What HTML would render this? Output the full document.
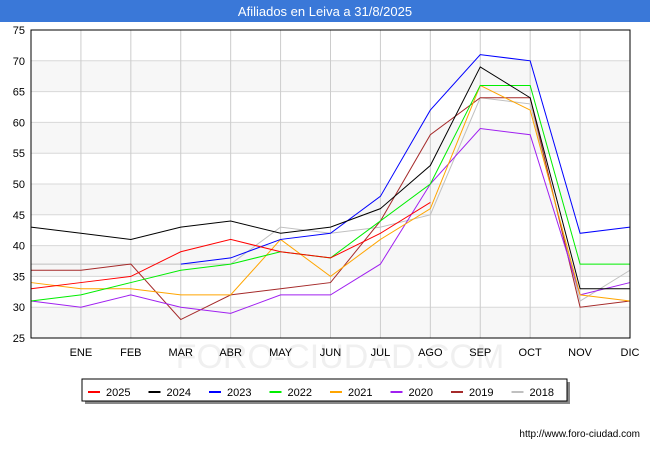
<!DOCTYPE html>
<html><head><meta charset="utf-8"><style>
body{margin:0;width:650px;height:450px;background:#fff;font-family:"Liberation Sans",sans-serif;overflow:hidden}
</style></head><body>
<svg id="c" width="650" height="450" xmlns="http://www.w3.org/2000/svg">
<rect x="0" y="0" width="650" height="22" fill="#3a78d8"/>
<text x="325" y="16" text-anchor="middle" fill="#fff" font-size="13">Afiliados en Leiva a 31/8/2025</text>
<text x="340" y="368" text-anchor="middle" fill="#f0f0f0" font-size="34">FORO-CIUDAD.COM</text>
<g id="grid"></g><g id="series"></g><g id="axes"></g>
<g id="legend"></g>
<text x="640" y="437" text-anchor="end" font-size="10" fill="#000">http://www.foro-ciudad.com</text>
</svg>
<script>
const months=["","ENE","FEB","MAR","ABR","MAY","JUN","JUL","AGO","SEP","OCT","NOV","DIC"];
const yTicks=[25,30,35,40,45,50,55,60,65,70,75];
const names=["2025","2024","2023","2022","2021","2020","2019","2018"];
const colors=["#ff0000","#000000","#0000ff","#00ee00","#ffa500","#a020f0","#a52a2a","#c0c0c0"];
const s2025=[33,34,35,39,41,39,38,42,47];
const s2024=[43,42,41,43,44,42,43,46,53,69,64,33,33];
const s2023=[null,null,null,37,38,41,42,48,62,71,70,42,43];
const s2022=[31,32,34,36,37,39,38,44,50,66,66,37,37];
const s2021=[34,33,33,32,32,41,35,41,46,66,62,32,31];
const s2020=[31,30,32,30,29,32,32,37,50,59,58,32,34];
const s2019=[36,36,37,28,32,33,34,44,58,64,64,30,31];
const s2018=[37,37,37,37,37,43,42,43,45,64,63,31,36];
const data=[s2025,s2024,s2023,s2022,s2021,s2020,s2019,s2018];
const X0=31,X1=630,Y0=338,Y1=30;
const x=i=>X0+i*(X1-X0)/12;
const y=v=>Y0-(v-25)*(Y0-Y1)/50;
const NS="http://www.w3.org/2000/svg";
function mk(t,a,p){const e=document.createElementNS(NS,t);for(const k in a)e.setAttribute(k,a[k]);p.appendChild(e);return e;}
const g=document.getElementById('grid');
for(let i=0;i<yTicks.length-1;i+=2){const r=mk('rect',{x:X0,y:y(yTicks[i+1]),width:X1-X0,height:y(yTicks[i])-y(yTicks[i+1]),fill:'#f7f7f7'},g);

}
yTicks.forEach(v=>{const l=mk('line',{x1:X0,x2:X1,y1:y(v),y2:y(v),stroke:'#d8d8d8'},g);


const t=mk('text',{x:X0-6,y:y(v)+4,'text-anchor':'end','font-size':11},g);t.textContent=v;

});
months.forEach((m,i)=>{const l=mk('line',{x1:x(i),x2:x(i),y1:Y1,y2:Y0,stroke:'#cccccc'},g);


const t=mk('text',{x:x(i),y:356,'text-anchor':'middle','font-size':11},g);t.textContent=m;

});
const a=document.getElementById('axes');
mk('rect',{x:X0,y:Y1,width:X1-X0,height:Y0-Y1,fill:'none',stroke:'#000'},a);
const sg=document.getElementById('series');
for(let k=data.length-1;k>=0;k--){let pts=[];data[k].forEach((v,i)=>{if(v!==null)pts.push(x(i)+','+y(v));});
const p=mk('polyline',{points:pts.join(' '),fill:'none',stroke:colors[k],'stroke-width':1},sg);

}
const lg=document.getElementById('legend');
mk('rect',{x:85,y:382,width:485,height:22,fill:'#888'},lg);
const box=mk('rect',{x:82,y:379,width:485,height:22,fill:'#fff',stroke:'#000'},lg);


names.forEach((n,i)=>{const lx=88+i*60.5;
const ln=mk('line',{x1:lx,x2:lx+12,y1:392,y2:392,stroke:colors[i],'stroke-width':2},lg);


const t=mk('text',{x:lx+18,y:396,'font-size':11},lg);t.textContent=n;

});
</script>
</body></html>
